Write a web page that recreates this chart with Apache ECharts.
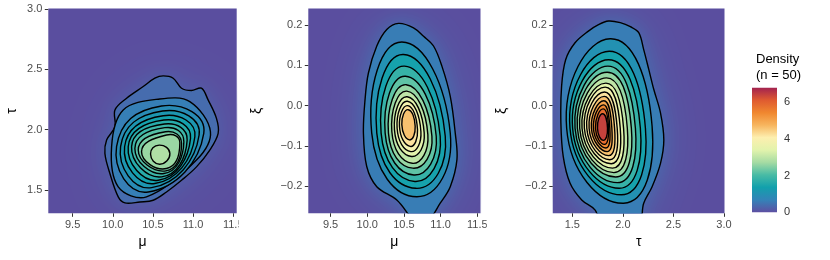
<!DOCTYPE html>
<html><head><meta charset="utf-8">
<script src="https://cdn.jsdelivr.net/npm/echarts@6/dist/echarts.min.js"></script>
<style>html,body{margin:0;padding:0;background:#fff}#c{width:830px;height:260px}</style>
</head><body><div id="c"></div>
<script>
// ---------- axis ranges & tick labels ----------
const muRange = [9.197, 11.543];
const tauRange = [1.307, 3.005];
const xiRange = [-0.267, 0.241];
const muTicks = [9.5, 10.0, 10.5, 11.0, 11.5];
const tauTicks = [1.5, 2.0, 2.5, 3.0];
const xiTicks = [-0.2, -0.1, 0.0, 0.1, 0.2];
const legendTicks = [0, 2, 4, 6];
const legendMax = 6.77;

// ---------- colour scale (density -> colour) ----------
const scaleValues = [0, 0.677, 1.354, 2.031, 2.708, 3.385, 4.062, 4.739, 5.416, 6.093, 6.77];
const scaleColors = ['#5E4FA2', '#3383B8', '#12A0AC', '#48BBA5', '#A5DBA3', '#E2F3AC', '#FDEFAF', '#F7B55E', '#F0872F', '#DF5A30', '#A3224F'];

// ---------- panel 1 : mu vs tau (contours: [mu, tau] points) ----------
const p1Levels = [0.25, 0.5, 0.75, 1.0, 1.25, 1.5, 1.75, 2.0, 2.25, 2.5, 2.75];
const p1Peak = 2.9;
const p1Contours = [
  [[10.628,2.446],[10.752,2.427],[10.856,2.344],[10.98,2.325],[11.104,2.344],[11.187,2.247],[11.291,2.094],[11.312,1.97],[11.208,1.831],[11.042,1.692],[10.856,1.581],[10.669,1.484],[10.503,1.415],[10.337,1.401],[10.151,1.393],[10.068,1.443],[9.964,1.637],[9.902,1.803],[9.923,1.914],[10.027,2.025],[10.027,2.164],[10.172,2.261],[10.379,2.358],[10.524,2.427]],
  [[10.586,2.255],[10.959,2.233],[11.216,1.983],[11.042,1.748],[10.42,1.443],[10.068,1.526],[9.985,1.859],[10.13,2.164]],
  [[10.607,2.197],[11.133,1.969],[10.441,1.484],[10.047,1.859]],
  [[10.619,2.155],[11.075,1.956],[10.483,1.52],[10.097,1.859]],
  [[10.628,2.116],[11.022,1.942],[10.524,1.554],[10.147,1.859]],
  [[10.636,2.08],[10.968,1.928],[10.566,1.581],[10.192,1.859]],
  [[10.644,2.047],[10.926,1.914],[10.607,1.609],[10.234,1.859]],
  [[10.648,2.017],[10.885,1.9],[10.636,1.637],[10.275,1.845]],
  [[10.657,1.983],[10.856,1.886],[10.661,1.659],[10.317,1.831]],
  [[10.669,1.956],[10.835,1.892],[10.669,1.678],[10.358,1.817]],
  [[10.578,1.872],[10.711,1.803],[10.586,1.714],[10.47,1.798]]
];

// ---------- panel 2 : mu vs xi ----------
const p2Levels = [0.4, 0.8, 1.2, 1.6, 2.0, 2.4, 2.8, 3.2, 3.6, 4.0, 4.4];
const p2Peak = 4.8;
const p2Contours = [
  [[10.426,0.204],[10.63,0.193],[10.767,0.172],[10.903,0.148],[11.017,0.098],[11.131,0.023],[11.199,-0.068],[11.222,-0.134],[11.131,-0.201],[10.994,-0.242],[10.812,-0.29],[10.667,-0.29],[10.403,-0.234],[10.13,-0.201],[9.993,-0.151],[9.948,-0.068],[9.97,0.015],[10.016,0.081],[10.13,0.148],[10.266,0.189]],
  [[10.471,0.158],[11.131,-0.068],[10.676,-0.226],[10.061,-0.068]],
  [[10.494,0.127],[11.063,-0.076],[10.662,-0.205],[10.13,-0.068]],
  [[10.507,0.098],[10.994,-0.076],[10.649,-0.188],[10.189,-0.068]],
  [[10.521,0.073],[10.94,-0.076],[10.635,-0.172],[10.244,-0.068]],
  [[10.53,0.052],[10.881,-0.076],[10.621,-0.155],[10.289,-0.068]],
  [[10.539,0.036],[10.826,-0.072],[10.612,-0.143],[10.335,-0.064]],
  [[10.544,0.022],[10.776,-0.068],[10.603,-0.126],[10.371,-0.06]],
  [[10.548,0.011],[10.731,-0.064],[10.594,-0.114],[10.407,-0.056]],
  [[10.553,0.0],[10.685,-0.06],[10.585,-0.101],[10.439,-0.051]],
  [[10.557,-0.01],[10.653,-0.051],[10.576,-0.085],[10.471,-0.047]]
];

// ---------- panel 3 : tau vs xi ----------
const p3Levels = [0.4, 0.8, 1.2, 1.6, 2.0, 2.4, 2.8, 3.2, 3.6, 4.0, 4.4, 4.8, 5.2, 5.6, 6.0];
const p3Peak = 6.77;
const p3Contours = [
  [[1.858,0.21],[1.974,0.206],[2.074,0.196],[2.157,0.181],[2.206,0.139],[2.256,0.09],[2.306,0.04],[2.372,-0.018],[2.405,-0.085],[2.372,-0.143],[2.289,-0.201],[2.206,-0.242],[2.15,-0.3],[1.8,-0.3],[1.726,-0.259],[1.593,-0.234],[1.477,-0.192],[1.41,-0.126],[1.387,-0.043],[1.394,0.048],[1.434,0.114],[1.527,0.156],[1.659,0.185],[1.759,0.201]],
  [[1.875,0.166],[2.289,-0.051],[2.007,-0.242],[1.444,-0.056]],
  [[1.865,0.135],[2.223,-0.056],[1.984,-0.221],[1.477,-0.056]],
  [[1.858,0.114],[2.173,-0.056],[1.964,-0.205],[1.503,-0.056]],
  [[1.852,0.098],[2.124,-0.056],[1.944,-0.191],[1.527,-0.056]],
  [[1.845,0.083],[2.084,-0.056],[1.928,-0.177],[1.55,-0.056]],
  [[1.838,0.069],[2.044,-0.056],[1.911,-0.166],[1.573,-0.056]],
  [[1.832,0.056],[2.007,-0.056],[1.898,-0.155],[1.596,-0.056]],
  [[1.825,0.046],[1.974,-0.056],[1.885,-0.144],[1.619,-0.056]],
  [[1.818,0.034],[1.944,-0.056],[1.871,-0.134],[1.643,-0.056]],
  [[1.815,0.023],[1.918,-0.056],[1.858,-0.124],[1.666,-0.056]],
  [[1.812,0.012],[1.891,-0.056],[1.845,-0.114],[1.689,-0.056]],
  [[1.808,0.002],[1.871,-0.056],[1.832,-0.105],[1.709,-0.056]],
  [[1.805,-0.008],[1.858,-0.056],[1.818,-0.096],[1.729,-0.056]],
  [[1.799,-0.020],[1.848,-0.056],[1.808,-0.086],[1.749,-0.056]]
];

// ---------- helpers ----------
const FONT = '"Liberation Sans", Arial, Helvetica, sans-serif';
function hex2rgb(h){return [parseInt(h.slice(1,3),16),parseInt(h.slice(3,5),16),parseInt(h.slice(5,7),16)];}
function colorAt(v){
  if (v <= scaleValues[0]) return scaleColors[0];
  for (let i = 1; i < scaleValues.length; i++) {
    if (v <= scaleValues[i]) {
      const t = (v - scaleValues[i-1]) / (scaleValues[i] - scaleValues[i-1]);
      const a = hex2rgb(scaleColors[i-1]), b = hex2rgb(scaleColors[i]);
      return 'rgb(' + a.map((x,k)=>Math.round(x + (b[k]-x)*t)).join(',') + ')';
    }
  }
  return scaleColors[scaleColors.length-1];
}
function fmt(v){ const s = Math.abs(v).toFixed(1); return v < -1e-9 ? '\u2212' + s : s; }

const grids = [
  {left: 48.3, top: 8.5, width: 188.4, height: 204.8},
  {left: 308.3, top: 8.5, width: 172.2, height: 204.8},
  {left: 552.8, top: 8.5, width: 171.7, height: 204.8},
  {left: 752, top: 87.7, width: 25, height: 124.6}
];

function xAx(i, range, ticks, name){
  return {gridIndex:i, type:'value', min:range[0], max:range[1], name:name, nameLocation:'middle', nameGap:16,
    nameTextStyle:{fontSize:14, color:'#000', fontFamily:FONT},
    axisLine:{show:false, onZero:false}, splitLine:{show:false},
    axisTick:{show:true, length:3.5, customValues:ticks, lineStyle:{color:'#333', width:1}},
    axisLabel:{customValues:ticks, formatter:fmt, margin:6, fontSize:11, color:'#4D4D4D', fontFamily:FONT}};
}
function yAx(i, range, ticks, name, gap){
  return {gridIndex:i, type:'value', min:range[0], max:range[1], name:name, nameLocation:'middle', nameGap:gap,
    nameTextStyle:{fontSize:14, color:'#000', fontFamily:FONT},
    axisLine:{show:false, onZero:false}, splitLine:{show:false},
    axisTick:{show:true, length:3.5, customValues:ticks, lineStyle:{color:'#333', width:1}},
    axisLabel:{customValues:ticks, formatter:fmt, margin:6, fontSize:11, color:'#4D4D4D', fontFamily:FONT}};
}

function contourSeries(idx, contours, levels, peak){
  return {
    type:'custom', xAxisIndex:idx, yAxisIndex:idx, clip:true, z:2,
    data: contours.map((c,i)=>[c[0][0], c[0][1], i]),
    renderItem: function(params, api){
      const i = params.dataIndex;
      const c = contours[i];
      const pts = c.map(p=>api.coord(p));
      const sm = c.length > 6 ? 0.35 : 0.55;
      const v = i < levels.length-1 ? (levels[i]+levels[i+1])/2 : (levels[i]+peak)/2;
      const poly = {type:'polygon', shape:{points:pts, smooth:sm},
        style:{fill: colorAt(v), stroke:'#000', lineWidth:1.4}};
      if (i !== 0) return poly;
      // soft halo outside the outermost contour (density fading to zero)
      const halo1 = {type:'polygon', shape:{points:pts, smooth:sm},
        style:{fill: colorAt(levels[0]*0.7), shadowBlur:44, shadowColor: colorAt(levels[0]*0.8)}};
      const halo2 = {type:'polygon', shape:{points:pts, smooth:sm},
        style:{fill: colorAt(levels[0]*0.9), shadowBlur:16, shadowColor: colorAt(levels[0]*0.9)}};
      return {type:'group', children:[halo1, halo2, poly]};
    }
  };
}

const chart = echarts.init(document.getElementById('c'), null, {renderer:'canvas'});
chart.setOption({
  animation:false,
  backgroundColor:'#fff',
  title:{text:'Density\n(n = 50)', left:751, top:46, textStyle:{fontSize:13, fontWeight:'normal', color:'#000', fontFamily:FONT, lineHeight:16}},
  grid: grids.map((g,i)=>Object.assign({show: i<3, backgroundColor:'#5A4E9F', borderWidth:0, containLabel:false}, g)),
  xAxis:[
    xAx(0, muRange, muTicks, 'μ'),
    xAx(1, muRange, muTicks, 'μ'),
    xAx(2, tauRange, tauTicks, 'τ'),
    {gridIndex:3, type:'value', min:0, max:1, show:false}
  ],
  yAxis:[
    yAx(0, tauRange, tauTicks, 'τ', 29),
    yAx(1, xiRange, xiTicks, 'ξ', 44),
    yAx(2, xiRange, xiTicks, 'ξ', 44),
    {gridIndex:3, type:'value', min:0, max:legendMax, position:'right',
      axisLine:{show:false}, splitLine:{show:false},
      axisTick:{show:true, inside:true, length:4, customValues:[2,4,6], lineStyle:{color:'#fff', width:1}},
      axisLabel:{customValues:legendTicks, margin:7, fontSize:11, color:'#333', fontFamily:FONT}},
    {gridIndex:3, type:'value', min:0, max:legendMax, position:'left',
      axisLine:{show:false}, splitLine:{show:false}, axisLabel:{show:false},
      axisTick:{show:true, inside:true, length:4, customValues:[2,4,6], lineStyle:{color:'#fff', width:1}}}
  ],
  series:[
    contourSeries(0, p1Contours, p1Levels, p1Peak),
    contourSeries(1, p2Contours, p2Levels, p2Peak),
    contourSeries(2, p3Contours, p3Levels, p3Peak),
    {type:'custom', xAxisIndex:3, yAxisIndex:3, z:1,
      data:[[0, 0, legendMax]],
      renderItem:function(params, api){
        const a = api.coord([0, api.value(1)]), b = api.coord([1, api.value(2)]);
        const stops = scaleValues.map((v,k)=>({offset:v/legendMax, color:scaleColors[k]}));
        return {type:'rect', shape:{x:a[0], y:b[1], width:b[0]-a[0], height:a[1]-b[1]},
          style:{fill:new echarts.graphic.LinearGradient(0,1,0,0,stops)}};
      }}
  ],
  graphic:[
    {type:'rect', z:100, shape:{x:238.6, y:214.5, width:8, height:20}, style:{fill:'#fff'}},
    {type:'rect', z:100, shape:{x:486.8, y:214.5, width:8, height:20}, style:{fill:'#fff'}}
  ]
});
</script></body></html>
